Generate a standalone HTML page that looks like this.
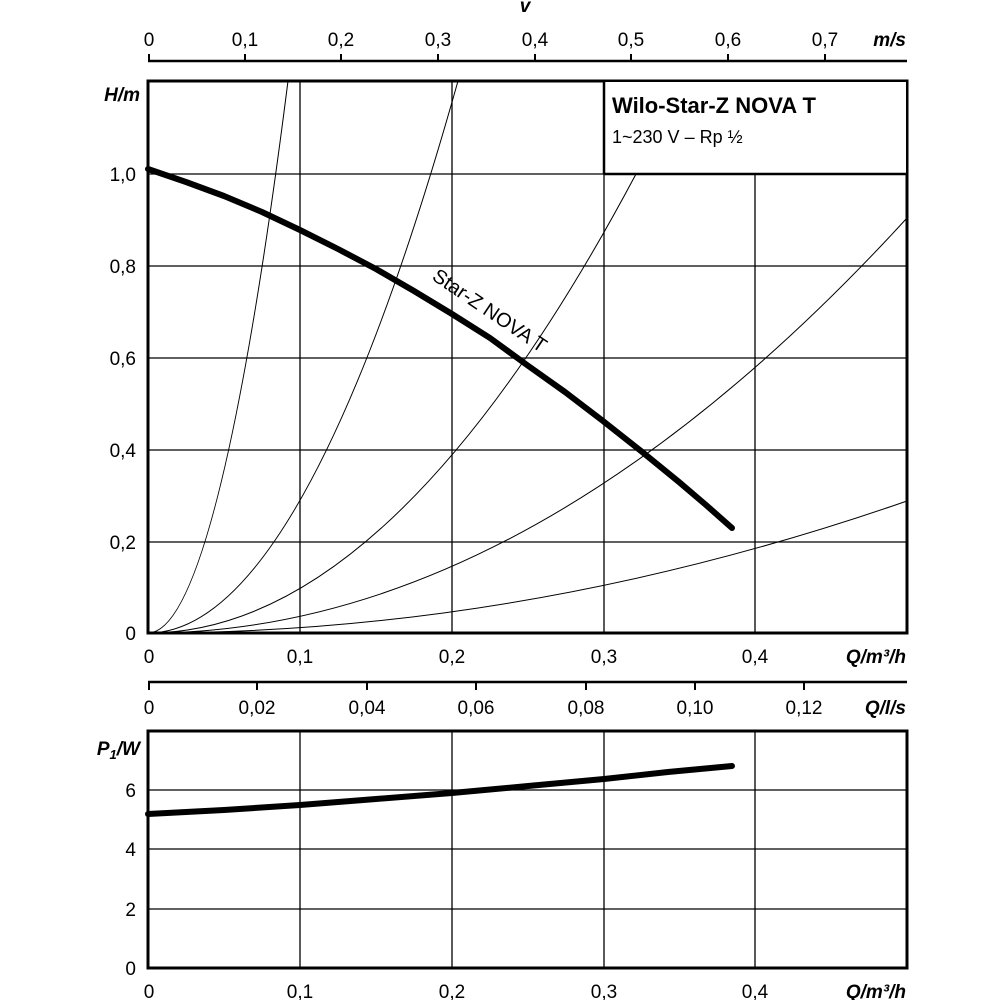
<!DOCTYPE html>
<html><head><meta charset="utf-8"><style>
body{margin:0;background:#fff}
svg{display:block;font-family:"Liberation Sans",sans-serif}
</style></head><body>
<svg width="1000" height="1000" viewBox="0 0 1000 1000">
<g fill="none" stroke="#000">
<line x1="148" y1="61" x2="907" y2="61" stroke-width="2.5"/>
<g stroke-width="2">
<line x1="149" y1="54" x2="149" y2="61"/><line x1="245" y1="54" x2="245" y2="61"/><line x1="341" y1="54" x2="341" y2="61"/><line x1="438" y1="54" x2="438" y2="61"/><line x1="535" y1="54" x2="535" y2="61"/><line x1="631" y1="54" x2="631" y2="61"/><line x1="728" y1="54" x2="728" y2="61"/><line x1="825" y1="54" x2="825" y2="61"/>
</g>
<g stroke-width="1.3">
<line x1="300" y1="81" x2="300" y2="633"/><line x1="452" y1="81" x2="452" y2="633"/><line x1="604" y1="81" x2="604" y2="633"/><line x1="755" y1="174" x2="755" y2="633"/>
<line x1="148" y1="174" x2="907" y2="174"/><line x1="148" y1="266" x2="907" y2="266"/><line x1="148" y1="358" x2="907" y2="358"/><line x1="148" y1="450" x2="907" y2="450"/><line x1="148" y1="542" x2="907" y2="542"/>
</g>
<g stroke-width="1">
<path d="M148,633 Q218,633 288,81"/>
<path d="M148,633 Q303,633 458,81"/>
<path d="M148,633 Q392,633 636,174"/>
<path d="M148,633 Q527,633 907,218"/>
<path d="M148,633 Q527,633 907,501"/>
</g>
<rect x="148" y="81" width="759" height="552" stroke-width="3"/>
<polyline points="148,169 186,182 224,196 262,212 300,230 338,249 376,269 414,291 452,314 490,338 527,365 565,392 603,421 641,451 679,482 706,505 732,528" stroke-width="6" stroke-linecap="round" stroke-linejoin="round"/>
<line x1="148" y1="682" x2="907" y2="682" stroke-width="2.5"/>
<g stroke-width="2">
<line x1="149" y1="682" x2="149" y2="690"/><line x1="257" y1="682" x2="257" y2="690"/><line x1="367" y1="682" x2="367" y2="690"/><line x1="476" y1="682" x2="476" y2="690"/><line x1="586" y1="682" x2="586" y2="690"/><line x1="695" y1="682" x2="695" y2="690"/><line x1="804" y1="682" x2="804" y2="690"/>
</g>
<g stroke-width="1.3">
<line x1="300" y1="731" x2="300" y2="968"/><line x1="452" y1="731" x2="452" y2="968"/><line x1="604" y1="731" x2="604" y2="968"/><line x1="755" y1="731" x2="755" y2="968"/>
<line x1="148" y1="790" x2="907" y2="790"/><line x1="148" y1="849" x2="907" y2="849"/><line x1="148" y1="909" x2="907" y2="909"/>
</g>
<rect x="148" y="731" width="759" height="237" stroke-width="3"/>
<polyline points="148,814 224,810 300,805 376,799 452,793 528,786 604,779 668,772 732,766" stroke-width="6" stroke-linecap="round" stroke-linejoin="round"/>
</g>
<rect x="605" y="82" width="301" height="91" fill="#fff"/>
<line x1="604" y1="81" x2="604" y2="174" stroke="#000" stroke-width="2.5"/>
<line x1="604" y1="174" x2="907" y2="174" stroke="#000" stroke-width="2.5"/>
<g font-size="19" fill="#000">
<text x="525" y="12" text-anchor="middle" font-style="italic" font-weight="bold">v</text>
<g text-anchor="middle">
<text x="149" y="46">0</text><text x="245" y="46">0,1</text><text x="341" y="46">0,2</text><text x="438" y="46">0,3</text><text x="535" y="46">0,4</text><text x="631" y="46">0,5</text><text x="728" y="46">0,6</text><text x="825" y="46">0,7</text>
</g>
<text x="906" y="46" text-anchor="end" font-style="italic" font-weight="bold">m/s</text>
<text x="140" y="101" text-anchor="end" font-style="italic" font-weight="bold">H/m</text>
<g text-anchor="end">
<text x="136" y="181">1,0</text><text x="136" y="273">0,8</text><text x="136" y="365">0,6</text><text x="136" y="457">0,4</text><text x="136" y="549">0,2</text><text x="136" y="640">0</text>
<text x="136" y="797">6</text><text x="136" y="856">4</text><text x="136" y="916">2</text><text x="136" y="975">0</text>
</g>
<text x="140" y="755" text-anchor="end" font-style="italic" font-weight="bold">P<tspan font-size="13" dy="4">1</tspan><tspan dy="-4">/W</tspan></text>
<g text-anchor="middle">
<text x="149" y="663">0</text><text x="300" y="663">0,1</text><text x="452" y="663">0,2</text><text x="604" y="663">0,3</text><text x="755" y="663">0,4</text>
<text x="149" y="714">0</text><text x="257" y="714">0,02</text><text x="367" y="714">0,04</text><text x="476" y="714">0,06</text><text x="586" y="714">0,08</text><text x="695" y="714">0,10</text><text x="804" y="714">0,12</text>
<text x="149" y="998">0</text><text x="300" y="998">0,1</text><text x="452" y="998">0,2</text><text x="604" y="998">0,3</text><text x="755" y="998">0,4</text>
</g>
<text x="906" y="663" text-anchor="end" font-style="italic" font-weight="bold">Q/m³/h</text>
<text x="906" y="714" text-anchor="end" font-style="italic" font-weight="bold">Q/l/s</text>
<text x="906" y="998" text-anchor="end" font-style="italic" font-weight="bold">Q/m³/h</text>
<text x="612" y="113" font-size="22" font-weight="bold">Wilo-Star-Z NOVA T</text>
<text x="612" y="143" font-size="18">1~230 V – Rp ½</text>
<text transform="translate(431,279) rotate(34)" font-size="20">Star-Z NOVA T</text>
</g>
</svg>
</body></html>
